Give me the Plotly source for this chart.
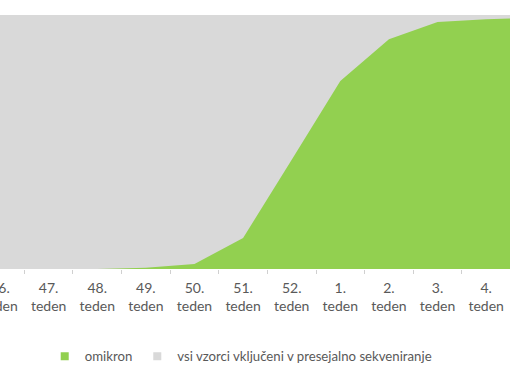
import plotly.graph_objects as go

weeks = ["46.", "47.", "48.", "49.", "50.", "51.", "52.", "1.", "2.", "3.", "4.", "5."]
omikron = [0, 0, 0, 0.5, 2.0, 12.2, 43.0, 74.0, 90.5, 97.2, 98.3, 98.9]
vsi = [100] * len(weeks)

labels = [w + "<br>teden" for w in weeks]
name_vsi = "vsi vzorci vključeni v presejalno sekveniranje"
name_omi = "omikron"

fig = go.Figure()
fig.add_trace(go.Scatter(
    x=labels, y=vsi, name=name_vsi, showlegend=False,
    mode="none", fill="tozeroy", fillcolor="#D9D9D9",
))
fig.add_trace(go.Scatter(
    x=labels, y=omikron, name=name_omi, showlegend=False,
    mode="none", fill="tozeroy", fillcolor="#92D050",
))
# legend entries (square markers)
fig.add_trace(go.Scatter(x=[None], y=[None], mode="markers", name=name_omi,
                         marker=dict(symbol="square", size=8, color="#92D050"), legendrank=1))
fig.add_trace(go.Scatter(x=[None], y=[None], mode="markers", name=name_vsi,
                         marker=dict(symbol="square", size=8, color="#D9D9D9"), legendrank=2))

fig.update_layout(
    width=510, height=382,
    margin=dict(l=0, r=0, t=15, b=113, autoexpand=False),
    paper_bgcolor="white", plot_bgcolor="white",
    font=dict(family="Lato, sans-serif", size=14, color="#595959"),
    showlegend=True,
    legend=dict(orientation="h", x=0.472, xanchor="center", y=-0.345, yanchor="middle",
                font=dict(size=13.2, color="#595959"), itemwidth=30, tracegroupgap=0),
    xaxis=dict(type="category", range=[0, 10.49], tickson="boundaries", automargin=False,
               ticks="outside", ticklen=4, tickcolor="#D0D0D0", showgrid=False,
               showline=False, zeroline=False, ticklabelstandoff=9,
               tickfont=dict(size=14, color="#595959")),
    yaxis=dict(range=[0, 100], visible=False, showgrid=False, zeroline=False, automargin=False),
    hovermode=False,
)

fig.write_html("out.html", config={"displayModeBar": False},
               post_script="document.body.style.margin='0';")
